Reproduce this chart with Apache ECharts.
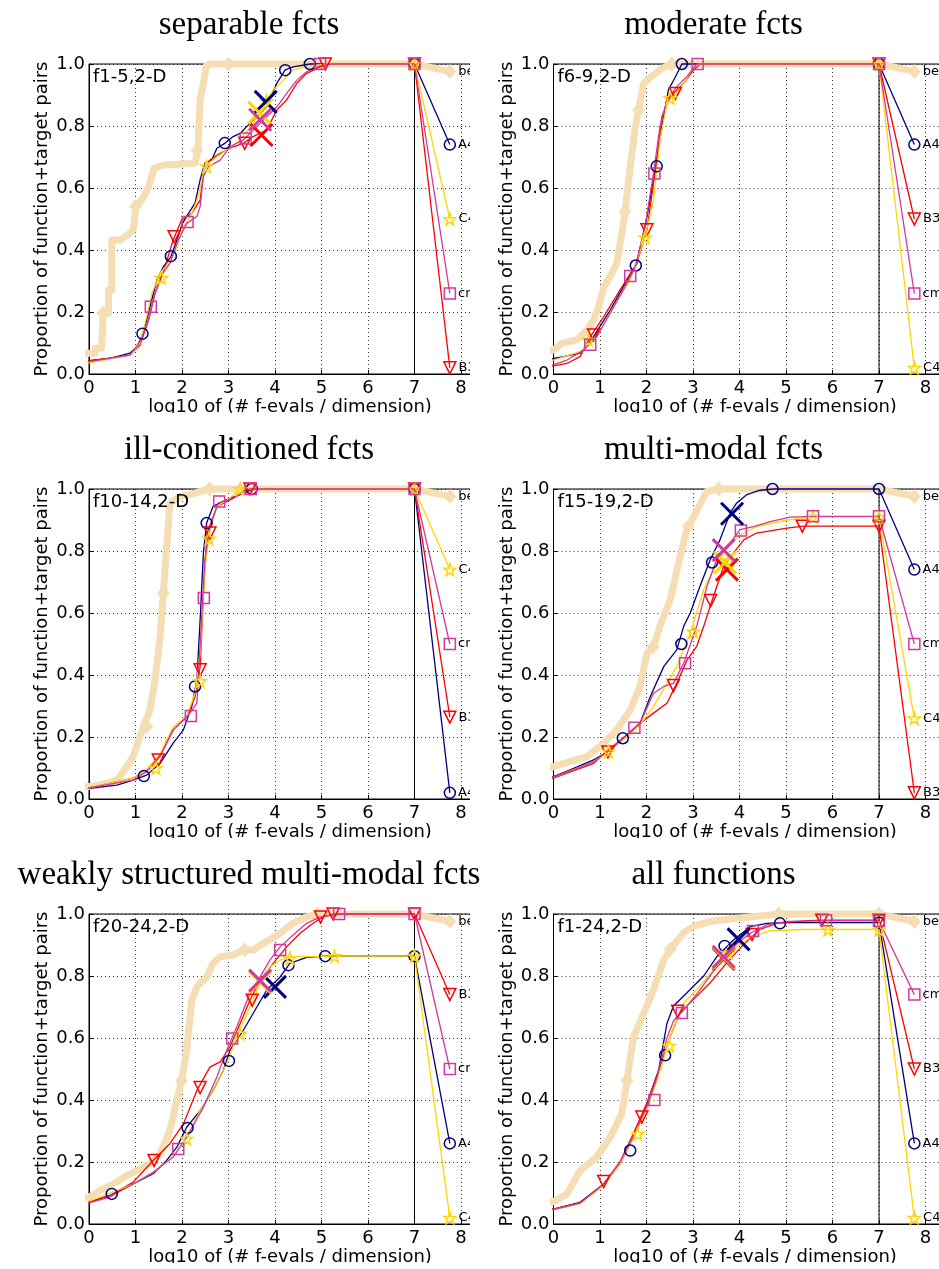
<!DOCTYPE html>
<html><head><meta charset="utf-8">
<script src="https://cdn.jsdelivr.net/npm/echarts@6/dist/echarts.min.js"></script>
<style>
html,body{margin:0;padding:0;background:#fff;width:939px;height:1269px;overflow:hidden}
.p{position:absolute;overflow:hidden;background:#fff}
.in{position:absolute;left:0;top:0;width:560px;height:413px}
#ov{position:absolute;left:0;top:0;width:939px;height:1269px;z-index:10;pointer-events:none}
</style></head><body>
<div class="p" style="left:0;top:0;width:470px;height:413px"><div id="c0" class="in"></div></div>
<div class="p" style="left:470px;top:0;width:469px;height:413px"><div id="c1" class="in"></div></div>
<div class="p" style="left:0;top:425px;width:470px;height:413px"><div id="c2" class="in"></div></div>
<div class="p" style="left:470px;top:425px;width:469px;height:413px"><div id="c3" class="in"></div></div>
<div class="p" style="left:0;top:850px;width:470px;height:413px"><div id="c4" class="in"></div></div>
<div class="p" style="left:470px;top:850px;width:469px;height:413px"><div id="c5" class="in"></div></div>
<div id="ov"></div>
<script>
// ---------- data ----------
const titles = ['separable fcts','moderate fcts','ill-conditioned fcts','multi-modal fcts','weakly structured multi-modal fcts','all functions'];
const tags = ['f1-5,2-D','f6-9,2-D','f10-14,2-D','f15-19,2-D','f20-24,2-D','f1-24,2-D'];
const xTickLabels = ['0','1','2','3','4','5','6','7','8'];
const yTickLabels = ['0.0','0.2','0.4','0.6','0.8','1.0'];
const algNames = ['A4','B3','C4','cm'];
const bestName = 'best 2009';

// panel 1
const p1Best = [[-0.32,0],[-0.32,0.067],[0.13,0.067],[0.13,0.083],[0.27,0.083],[0.31,0.196],[0.42,0.196],[0.42,0.271],[0.49,0.271],[0.49,0.432],[0.67,0.432],[0.88,0.454],[0.95,0.465],[1.01,0.54],[1.13,0.561],[1.28,0.604],[1.40,0.663],[1.60,0.674],[2.28,0.680],[2.34,0.717],[2.39,0.884],[2.46,0.938],[2.53,0.997],[2.67,1.0],[7,1.0],[7.76,0.976]];
const p1BestMk = [[0.3,0.196],[1.0,0.54],[2.32,0.72],[3.0,1.0],[7.76,0.976]];
const p1A4 = [[-0.32,0],[-0.32,0.04],[0,0.043],[0.45,0.05],[0.88,0.067],[1.03,0.088],[1.17,0.131],[1.31,0.217],[1.46,0.303],[1.6,0.346],[1.76,0.378],[1.89,0.432],[2.01,0.486],[2.14,0.518],[2.28,0.551],[2.39,0.626],[2.49,0.68],[2.64,0.69],[2.75,0.728],[2.92,0.744],[3.1,0.766],[3.25,0.776],[3.39,0.798],[3.61,0.83],[3.82,0.862],[4.04,0.938],[4.22,0.981],[4.39,0.991],[4.75,1.0],[7,1.0],[7.76,0.74]];
const p1A4Mk = [[1.15,0.13],[1.76,0.38],[2.92,0.745],[4.22,0.98],[4.75,1.0],[7,1.0],[7.76,0.74]];
const p1A4X = [[3.8,0.878]];
const p1B3 = [[-0.32,0],[-0.32,0.04],[0,0.042],[0.88,0.061],[1.1,0.094],[1.28,0.174],[1.42,0.26],[1.6,0.33],[1.81,0.432],[1.99,0.497],[2.21,0.518],[2.39,0.561],[2.47,0.658],[2.6,0.69],[2.82,0.712],[3.1,0.733],[3.32,0.744],[3.53,0.766],[3.82,0.787],[4.04,0.852],[4.25,0.884],[4.47,0.938],[4.68,0.97],[4.97,0.991],[5.15,1.0],[7,1.0],[7.76,0.02]];
const p1B3Mk = [[1.83,0.443],[3.35,0.744],[5.08,1.0],[7,1.0],[7.76,0.02]];
const p1B3X = [[3.71,0.771]];
const p1C4 = [[-0.32,0],[-0.32,0.034],[0,0.036],[0.88,0.061],[1.1,0.1],[1.24,0.185],[1.35,0.26],[1.53,0.325],[1.74,0.362],[1.89,0.41],[2.03,0.475],[2.21,0.518],[2.35,0.572],[2.47,0.658],[2.57,0.68],[2.75,0.70],[2.96,0.723],[3.25,0.755],[3.53,0.809],[3.75,0.862],[3.96,0.916],[4.18,0.948],[4.39,0.981],[4.75,0.994],[5.11,1.0],[7,1.0],[7.76,0.5]];
const p1C4Mk = [[1.56,0.31],[2.53,0.67],[3.82,0.88],[7,1.0],[7.76,0.5]];
const p1C4X = [[3.66,0.843]];
const p1Cm = [[-0.32,0],[-0.32,0.04],[0,0.04],[0.88,0.061],[1.1,0.105],[1.28,0.174],[1.38,0.239],[1.53,0.314],[1.74,0.357],[1.92,0.432],[2.1,0.486],[2.32,0.508],[2.39,0.54],[2.46,0.637],[2.57,0.669],[2.82,0.69],[3.03,0.733],[3.32,0.755],[3.61,0.798],[3.82,0.83],[4.04,0.862],[4.25,0.905],[4.47,0.948],[4.68,0.975],[4.97,0.994],[5.2,1.0],[7,1.0],[7.76,0.26]];
const p1CmMk = [[1.33,0.217],[2.12,0.49],[3.37,0.76],[4.97,1.0],[7,1.0],[7.76,0.26]];
const p1CmX = [[3.68,0.82]];

// panel 2
const p2Best = [[-0.32,0],[-0.32,0.072],[0,0.077],[0.18,0.099],[0.5,0.11],[0.72,0.142],[0.86,0.174],[0.97,0.217],[1.08,0.28],[1.22,0.314],[1.36,0.357],[1.47,0.454],[1.54,0.524],[1.65,0.669],[1.76,0.798],[1.83,0.852],[1.94,0.938],[2.11,0.96],[2.33,0.986],[2.54,1.0],[7,1.0],[7.76,0.976]];
const p2BestMk = [[1.54,0.524],[1.83,0.852],[2.54,1.0],[7.76,0.976]];
const p2A4 = [[-0.32,0],[-0.32,0.04],[0,0.05],[0.22,0.056],[0.57,0.067],[0.86,0.12],[1.22,0.206],[1.58,0.303],[1.79,0.357],[2.01,0.508],[2.19,0.658],[2.33,0.798],[2.47,0.916],[2.62,0.958],[2.76,1.0],[7,1.0],[7.76,0.74]];
const p2A4Mk = [[1.77,0.35],[2.22,0.67],[2.76,1.0],[7,1.0],[7.76,0.74]];
const p2A4X = [];
const p2B3 = [[-0.32,0],[-0.32,0.024],[0,0.026],[0.29,0.034],[0.57,0.056],[0.79,0.12],[1.08,0.185],[1.43,0.271],[1.79,0.357],[2.01,0.465],[2.19,0.658],[2.33,0.83],[2.51,0.895],[2.8,0.938],[3.01,0.98],[3.15,1.0],[7,1.0],[7.76,0.5]];
const p2B3Mk = [[0.86,0.126],[2.01,0.465],[2.62,0.905],[7,1.0],[7.76,0.5]];
const p2B3X = [];
const p2C4 = [[-0.32,0],[-0.32,0.045],[0,0.045],[0.57,0.072],[0.93,0.12],[1.29,0.217],[1.65,0.303],[1.97,0.443],[2.15,0.561],[2.29,0.755],[2.44,0.873],[2.58,0.895],[2.8,0.938],[3.01,0.99],[3.15,1.0],[7,1.0],[7.76,0.02]];
const p2C4Mk = [[0.75,0.11],[1.97,0.44],[2.51,0.89],[7,1.0],[7.76,0.02]];
const p2C4X = [];
const p2Cm = [[-0.32,0],[-0.32,0.024],[0,0.03],[0.29,0.045],[0.65,0.077],[0.93,0.12],[1.22,0.196],[1.54,0.282],[1.76,0.346],[1.97,0.475],[2.15,0.647],[2.29,0.798],[2.44,0.884],[2.65,0.927],[2.87,0.96],[3.08,1.0],[7,1.0],[7.76,0.26]];
const p2CmMk = [[0.79,0.094],[1.65,0.316],[2.17,0.647],[3.1,1.0],[7,1.0],[7.76,0.26]];
const p2CmX = [];

// panel 3
const p3Best = [[-0.32,0],[-0.32,0.034],[0.24,0.045],[0.6,0.061],[0.77,0.094],[0.95,0.137],[1.17,0.234],[1.31,0.287],[1.42,0.384],[1.53,0.524],[1.6,0.664],[1.67,0.815],[1.74,0.955],[1.96,0.976],[2.24,0.985],[2.53,0.998],[2.6,1.0],[7,1.0],[7.76,0.976]];
const p3BestMk = [[1.24,0.234],[1.6,0.664],[2.59,1.0],[7.76,0.976]];
const p3A4 = [[-0.32,0],[-0.32,0.034],[0,0.034],[0.6,0.045],[0.95,0.061],[1.24,0.077],[1.53,0.115],[1.81,0.18],[2.03,0.223],[2.21,0.298],[2.32,0.384],[2.39,0.578],[2.46,0.793],[2.53,0.89],[2.67,0.944],[2.96,0.966],[3.25,0.982],[3.53,1.0],[7,1.0],[7.76,0.02]];
const p3A4Mk = [[1.18,0.074],[2.28,0.363],[2.53,0.89],[3.5,1.0],[7,1.0],[7.76,0.02]];
const p3A4X = [];
const p3B3 = [[-0.32,0],[-0.32,0.034],[0,0.036],[0.95,0.067],[1.24,0.094],[1.53,0.142],[1.81,0.223],[2.1,0.266],[2.28,0.33],[2.39,0.427],[2.47,0.686],[2.54,0.858],[2.75,0.944],[3.1,0.97],[3.39,1.0],[7,1.0],[7.76,0.264]];
const p3B3Mk = [[1.49,0.126],[2.39,0.417],[2.6,0.858],[3.46,1.0],[7,1.0],[7.76,0.264]];
const p3B3X = [];
const p3C4 = [[-0.32,0],[-0.32,0.034],[0,0.036],[0.95,0.067],[1.24,0.094],[1.53,0.147],[1.81,0.234],[2.1,0.266],[2.28,0.341],[2.39,0.47],[2.49,0.74],[2.6,0.869],[2.75,0.944],[3.03,0.971],[3.25,1.0],[7,1.0],[7.76,0.74]];
const p3C4Mk = [[1.44,0.1],[2.39,0.38],[2.58,0.84],[3.25,1.0],[7,1.0],[7.76,0.74]];
const p3C4X = [];
const p3Cm = [[-0.32,0],[-0.32,0.034],[0,0.036],[0.95,0.061],[1.24,0.088],[1.53,0.137],[1.81,0.223],[2.14,0.271],[2.32,0.309],[2.42,0.578],[2.49,0.772],[2.6,0.879],[2.78,0.955],[3.1,0.97],[3.46,1.0],[7,1.0],[7.76,0.5]];
const p3CmMk = [[2.19,0.268],[2.47,0.648],[2.8,0.96],[3.48,1.0],[7,1.0],[7.76,0.5]];
const p3CmX = [];

// panel 4
const p4Best = [[-0.32,0],[-0.32,0.099],[0,0.104],[0.36,0.121],[0.72,0.137],[1.08,0.18],[1.36,0.223],[1.65,0.287],[1.86,0.363],[2.01,0.47],[2.15,0.492],[2.29,0.557],[2.51,0.643],[2.69,0.761],[2.87,0.869],[3.08,0.93],[3.3,0.992],[3.55,1.0],[7,1.0],[7.76,0.976]];
const p4BestMk = [[2.14,0.49],[2.9,0.88],[3.55,1.0],[7.76,0.976]];
const p4A4 = [[-0.32,0],[-0.32,0.056],[0,0.072],[0.36,0.094],[0.86,0.126],[1.22,0.158],[1.58,0.207],[1.86,0.244],[2.08,0.33],[2.37,0.427],[2.65,0.481],[2.8,0.557],[2.94,0.6],[3.15,0.686],[3.37,0.772],[3.58,0.836],[3.8,0.923],[3.94,0.955],[4.16,0.982],[4.44,0.996],[4.73,1.0],[7,1.0],[7.76,0.74]];
const p4A4Mk = [[1.49,0.196],[2.75,0.5],[3.41,0.763],[4.71,1.0],[7,1.0],[7.76,0.74]];
const p4A4X = [[3.84,0.92]];
const p4B3 = [[-0.32,0],[-0.32,0.056],[0,0.067],[0.86,0.115],[1.22,0.163],[1.58,0.207],[1.86,0.244],[2.15,0.277],[2.44,0.309],[2.65,0.373],[2.87,0.448],[3.08,0.492],[3.23,0.557],[3.44,0.654],[3.66,0.75],[3.87,0.793],[4.09,0.836],[4.37,0.858],[5.02,0.874],[5.38,0.88],[7,0.88],[7.76,0.02]];
const p4B3Mk = [[1.17,0.152],[2.58,0.366],[3.38,0.64],[5.35,0.88],[7,0.88],[7.76,0.02]];
const p4B3X = [[3.73,0.74]];
const p4C4 = [[-0.32,0],[-0.32,0.056],[0,0.07],[0.86,0.12],[1.22,0.158],[1.58,0.2],[1.86,0.239],[2.15,0.298],[2.44,0.373],[2.65,0.427],[2.94,0.535],[3.23,0.675],[3.44,0.74],[3.66,0.793],[3.87,0.836],[4.09,0.858],[4.37,0.879],[5.02,0.9],[5.59,0.91],[7,0.91],[7.76,0.26]];
const p4C4Mk = [[1.18,0.153],[3.01,0.54],[3.76,0.77],[5.58,0.91],[7,0.91],[7.76,0.26]];
const p4C4X = [[3.69,0.763]];
const p4Cm = [[-0.32,0],[-0.32,0.056],[0,0.07],[0.86,0.12],[1.22,0.158],[1.58,0.207],[1.86,0.244],[2.15,0.341],[2.37,0.363],[2.58,0.373],[2.8,0.438],[3.08,0.557],[3.3,0.686],[3.51,0.772],[3.8,0.826],[4.01,0.869],[4.3,0.879],[4.66,0.895],[5.09,0.909],[5.58,0.912],[7,0.912],[7.76,0.5]];
const p4CmMk = [[1.74,0.23],[2.83,0.438],[4.03,0.866],[5.58,0.912],[7,0.912],[7.76,0.5]];
const p4CmX = [[3.66,0.803]];

// panel 5
const p5Best = [[-0.32,0],[-0.32,0.081],[0,0.086],[0.24,0.108],[0.52,0.129],[0.81,0.156],[1.1,0.178],[1.31,0.194],[1.53,0.226],[1.74,0.302],[1.89,0.399],[1.99,0.463],[2.1,0.56],[2.21,0.722],[2.32,0.765],[2.53,0.797],[2.67,0.841],[2.82,0.862],[3.1,0.867],[3.32,0.884],[3.53,0.884],[3.75,0.905],[4.11,0.938],[4.39,0.97],[4.68,0.991],[4.9,1.0],[7,1.0],[7.76,0.976]];
const p5BestMk = [[1.99,0.463],[3.35,0.884],[4.9,1.0],[7.76,0.976]];
const p5A4 = [[-0.32,0],[-0.32,0.065],[0,0.07],[0.45,0.092],[0.95,0.129],[1.38,0.162],[1.67,0.205],[1.89,0.248],[2.1,0.312],[2.39,0.366],[2.67,0.431],[2.89,0.496],[3.03,0.56],[3.32,0.625],[3.61,0.7],[3.82,0.754],[4.11,0.797],[4.32,0.841],[4.68,0.86],[5.08,0.864],[7,0.864],[7.76,0.26]];
const p5A4Mk = [[0.49,0.097],[2.12,0.31],[3.01,0.526],[4.29,0.835],[5.08,0.864],[7,0.864],[7.76,0.26]];
const p5A4X = [[4.0,0.765]];
const p5B3 = [[-0.32,0],[-0.32,0.06],[0,0.07],[0.45,0.092],[0.95,0.135],[1.38,0.205],[1.74,0.259],[2.03,0.323],[2.32,0.431],[2.6,0.506],[2.82,0.523],[3.03,0.571],[3.25,0.647],[3.46,0.722],[3.68,0.787],[3.96,0.841],[4.25,0.894],[4.54,0.938],[4.82,0.97],[5.04,0.991],[5.25,1.0],[7,1.0],[7.76,0.74]];
const p5B3Mk = [[1.4,0.205],[2.39,0.44],[3.51,0.722],[4.98,0.99],[5.25,1.0],[7,1.0],[7.76,0.74]];
const p5B3X = [];
const p5C4 = [[-0.32,0],[-0.32,0.065],[0,0.074],[0.95,0.129],[1.38,0.167],[1.81,0.216],[2.1,0.28],[2.39,0.366],[2.67,0.431],[2.96,0.517],[3.18,0.603],[3.46,0.7],[3.68,0.776],[3.89,0.83],[4.11,0.851],[4.39,0.862],[5.25,0.864],[7,0.864],[7.76,0.02]];
const p5C4Mk = [[2.1,0.275],[3.25,0.614],[4.32,0.857],[5.28,0.864],[7,0.864],[7.76,0.02]];
const p5C4X = [[3.68,0.78]];
const p5Cm = [[-0.32,0],[-0.32,0.06],[0,0.068],[0.45,0.087],[0.95,0.129],[1.38,0.167],[1.81,0.216],[2.1,0.28],[2.46,0.377],[2.75,0.474],[2.96,0.56],[3.18,0.636],[3.43,0.733],[3.68,0.797],[3.89,0.851],[4.11,0.894],[4.39,0.932],[4.68,0.97],[4.97,0.991],[5.4,1.0],[7,1.0],[7.76,0.5]];
const p5CmMk = [[1.92,0.242],[3.08,0.598],[4.11,0.884],[5.38,1.0],[7,1.0],[7.76,0.5]];
const p5CmX = [[3.68,0.785]];

// panel 6
const p6Best = [[-0.32,0],[-0.32,0.07],[0,0.072],[0.29,0.097],[0.57,0.172],[0.93,0.216],[1.22,0.28],[1.47,0.356],[1.58,0.463],[1.72,0.603],[1.94,0.679],[2.15,0.756],[2.37,0.851],[2.51,0.886],[2.8,0.94],[3.01,0.96],[3.37,0.976],[3.94,0.986],[4.66,0.997],[4.84,1.0],[7,1.0],[7.76,0.976]];
const p6BestMk = [[1.58,0.463],[2.51,0.886],[4.84,1.0],[7,1.0],[7.76,0.976]];
const p6A4 = [[-0.32,0],[-0.32,0.043],[0,0.048],[0.57,0.07],[1.08,0.129],[1.43,0.194],[1.72,0.28],[2.01,0.388],[2.26,0.496],[2.44,0.647],[2.58,0.703],[2.87,0.746],[3.23,0.8],[3.51,0.862],[3.87,0.916],[4.23,0.959],[4.59,0.97],[4.87,0.972],[7,0.972],[7.76,0.26]];
const p6A4Mk = [[1.65,0.237],[2.4,0.544],[3.68,0.897],[4.87,0.97],[7,0.972],[7.76,0.26]];
const p6A4X = [[3.98,0.918]];
const p6B3 = [[-0.32,0],[-0.32,0.043],[0,0.048],[0.57,0.067],[1.08,0.129],[1.43,0.2],[1.72,0.293],[2.01,0.39],[2.3,0.51],[2.51,0.606],[2.72,0.681],[3.08,0.735],[3.37,0.778],[3.73,0.843],[4.09,0.902],[4.44,0.95],[4.8,0.97],[5.38,0.978],[5.77,0.98],[7,0.98],[7.76,0.5]];
const p6B3Mk = [[1.08,0.137],[1.9,0.345],[2.67,0.686],[4.27,0.934],[5.77,0.98],[7,0.98],[7.76,0.5]];
const p6B3X = [[3.66,0.855]];
const p6C4 = [[-0.32,0],[-0.32,0.043],[0,0.046],[0.57,0.065],[1.08,0.124],[1.43,0.194],[1.72,0.28],[2.01,0.37],[2.3,0.496],[2.51,0.606],[2.8,0.713],[3.15,0.767],[3.51,0.832],[3.87,0.886],[4.23,0.924],[4.66,0.946],[5.38,0.95],[7,0.95],[7.76,0.02]];
const p6C4Mk = [[1.81,0.29],[2.49,0.575],[3.76,0.875],[5.9,0.95],[7,0.95],[7.76,0.02]];
const p6C4X = [[3.66,0.859]];
const p6Cm = [[-0.32,0],[-0.32,0.043],[0,0.046],[0.57,0.067],[1.08,0.129],[1.43,0.2],[1.72,0.285],[2.01,0.38],[2.22,0.47],[2.44,0.6],[2.58,0.655],[2.8,0.69],[3.15,0.755],[3.51,0.83],[3.87,0.895],[4.23,0.938],[4.59,0.965],[5.02,0.976],[5.86,0.978],[7,0.978],[7.76,0.74]];
const p6CmMk = [[2.17,0.4],[2.76,0.681],[4.29,0.945],[5.86,0.98],[7,0.978],[7.76,0.74]];
const p6CmX = [[3.66,0.862]];

// ---------- styling ----------
const colors = {A4:'#000080', B3:'#FF0000', C4:'#FFD700', cm:'#D03A9F'};
const bestColor = '#F5DEB3';
const starPath = 'path://M0,-10L2.35,-3.24L9.51,-3.09L3.8,1.24L5.88,8.09L0,4L-5.88,8.09L-3.8,1.24L-9.51,-3.09L-2.35,-3.24Z';
const symbols = {A4:['circle',11,0], B3:['triangle',12,180], C4:[starPath,12,0], cm:['rect',11,0]};
const xPath = 'path://M0,0L10,10M10,0L0,10';

const panels = [
  {el:'c0', gx:0,   gy:0,   x0:89,   tcx:249,   ycx:42, xcx:290, best:p1Best, bestMk:p1BestMk, algs:{A4:[p1A4,p1A4Mk,p1A4X],B3:[p1B3,p1B3Mk,p1B3X],C4:[p1C4,p1C4Mk,p1C4X],cm:[p1Cm,p1CmMk,p1CmX]}},
  {el:'c1', gx:470, gy:0,   x0:83.5, tcx:243.5, ycx:37, xcx:285, best:p2Best, bestMk:p2BestMk, algs:{A4:[p2A4,p2A4Mk,p2A4X],B3:[p2B3,p2B3Mk,p2B3X],C4:[p2C4,p2C4Mk,p2C4X],cm:[p2Cm,p2CmMk,p2CmX]}},
  {el:'c2', gx:0,   gy:425, x0:89,   tcx:249,   ycx:42, xcx:290, best:p3Best, bestMk:p3BestMk, algs:{A4:[p3A4,p3A4Mk,p3A4X],B3:[p3B3,p3B3Mk,p3B3X],C4:[p3C4,p3C4Mk,p3C4X],cm:[p3Cm,p3CmMk,p3CmX]}},
  {el:'c3', gx:470, gy:425, x0:83.5, tcx:243.5, ycx:37, xcx:285, best:p4Best, bestMk:p4BestMk, algs:{A4:[p4A4,p4A4Mk,p4A4X],B3:[p4B3,p4B3Mk,p4B3X],C4:[p4C4,p4C4Mk,p4C4X],cm:[p4Cm,p4CmMk,p4CmX]}},
  {el:'c4', gx:0,   gy:850, x0:89,   tcx:249,   ycx:42, xcx:290, best:p5Best, bestMk:p5BestMk, algs:{A4:[p5A4,p5A4Mk,p5A4X],B3:[p5B3,p5B3Mk,p5B3X],C4:[p5C4,p5C4Mk,p5C4X],cm:[p5Cm,p5CmMk,p5CmX]}},
  {el:'c5', gx:470, gy:850, x0:83.5, tcx:243.5, ycx:37, xcx:285, best:p6Best, bestMk:p6BestMk, algs:{A4:[p6A4,p6A4Mk,p6A4X],B3:[p6B3,p6B3Mk,p6B3X],C4:[p6C4,p6C4Mk,p6C4X],cm:[p6Cm,p6CmMk,p6CmX]}}
];

const UNIT = 46.5, PH = 310, TOP = 64;
const labelStyle = {show:true, position:'right', distance:2, fontSize:13, fontFamily:'DejaVu Sans', color:'#000'};

function withLabel(arr, name){
  return arr.map((p,i)=> i===arr.length-1 ? {value:p, label:Object.assign({formatter:name}, labelStyle)} : {value:p});
}

panels.forEach((P, idx) => {
  const chart = echarts.init(document.getElementById(P.el), null, {renderer:'canvas', width:560, height:413});
  const series = [];
  series.push({type:'line', data:P.best, showSymbol:false, symbol:'none', clip:false, z:1, silent:true,
    lineStyle:{color:bestColor, width:7, join:'round'}});
  series.push({type:'scatter', data:withLabel(P.bestMk, bestName), symbol:'diamond', symbolSize:[13,15], clip:false, z:1, silent:true,
    itemStyle:{color:bestColor, opacity:1}});
  series.push({type:'line', data:[[7,0],[7,1]], showSymbol:false, symbol:'none', clip:false, z:2, silent:true,
    lineStyle:{color:'#000', width:1}});
  algNames.forEach((n, k) => {
    const [line, mk, xs] = P.algs[n];
    const c = colors[n];
    series.push({type:'line', data:line, showSymbol:false, symbol:'none', clip:false, z:3+k, silent:true,
      lineStyle:{color:c, width:1.3}});
    series.push({type:'scatter', data:withLabel(mk, n), symbol:symbols[n][0], symbolSize:symbols[n][1], symbolRotate:symbols[n][2],
      clip:false, z:8+k, silent:true,
      itemStyle:{color:'rgba(0,0,0,0)', borderColor:c, borderWidth:1.5, opacity:1}});
    if (xs.length) series.push({type:'scatter', data:xs, symbol:xPath, symbolSize:22, clip:false, z:12+k, silent:true,
      itemStyle:{color:'rgba(0,0,0,0)', borderColor:c, borderWidth:3, opacity:1}});
  });

  const option = {
    animation:false,
    backgroundColor:'#fff',
    grid:{left:P.x0, top:TOP, width:UNIT*9, height:PH, show:true, borderColor:'#000', borderWidth:1, containLabel:false},
    xAxis:{type:'value', min:0, max:9, interval:1,
      axisLine:{show:true, onZero:false, lineStyle:{color:'#000', width:1}},
      axisTick:{show:true, inside:true, length:4, lineStyle:{color:'#000'}},
      axisLabel:{fontSize:18, fontFamily:'DejaVu Sans', color:'#000', margin:5,
        formatter:(v)=> xTickLabels[v] !== undefined ? xTickLabels[v] : ''},
      splitLine:{show:true, lineStyle:{color:'#000', type:[1,3], width:0.8}}},
    yAxis:{type:'value', min:0, max:1, interval:0.2,
      axisLine:{show:true, lineStyle:{color:'#000', width:1}},
      axisTick:{show:true, inside:true, length:4, lineStyle:{color:'#000'}},
      axisLabel:{fontSize:18, fontFamily:'DejaVu Sans', color:'#000', margin:4,
        formatter:(v)=> yTickLabels[Math.round(v*5)]},
      splitLine:{show:true, lineStyle:{color:'#000', type:[1,3], width:0.8}}},
    graphic:[
      {type:'text', x:P.x0+4, y:77, z:100, style:{text:tags[idx], font:'18px "DejaVu Sans"', fill:'#000', align:'left', verticalAlign:'middle'}},
      {type:'text', x:P.ycx, y:TOP+PH/2, rotation:Math.PI/2, z:100, style:{text:'Proportion of function+target pairs', font:'18px "DejaVu Sans"', fill:'#000', align:'center', verticalAlign:'middle'}},
      {type:'text', x:P.xcx, y:407, z:100, style:{text:'log10 of (# f-evals / dimension)', font:'18px "DejaVu Sans"', fill:'#000', align:'center', verticalAlign:'middle'}}
    ],
    series:series
  };
  chart.setOption(option);
});

// titles overlay (not clipped by panel boxes)
const ov = echarts.init(document.getElementById('ov'), null, {renderer:'canvas', width:939, height:1269});
ov.setOption({
  animation:false,
  backgroundColor:'rgba(0,0,0,0)',
  graphic: panels.map((P, idx) => ({type:'text', x:P.gx + P.tcx, y:P.gy + 25, silent:true,
    style:{text:titles[idx], font:'33px "Liberation Serif"', fill:'#000', align:'center', verticalAlign:'middle'}}))
});
</script>
</body></html>
